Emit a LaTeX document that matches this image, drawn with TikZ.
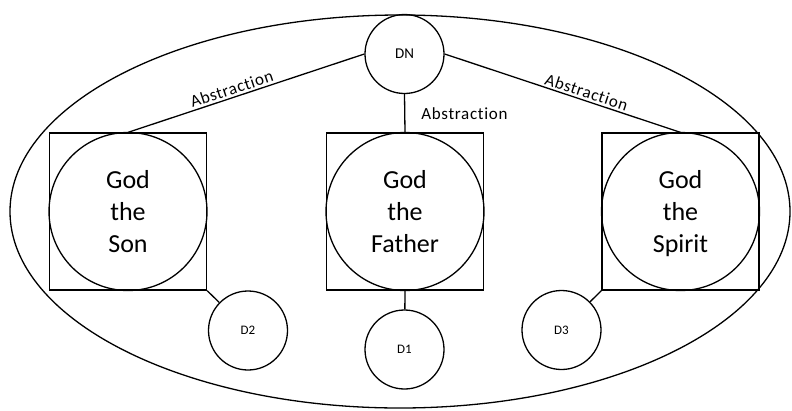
\documentclass[tikz,border=0pt]{standalone}
\usepackage{fontspec}
\setmainfont[Ligatures=NoCommon]{Carlito}
\newfontfamily\spacedfont[LetterSpace=4,Ligatures=NoCommon]{Carlito}
\begin{document}
\begin{tikzpicture}[x=1pt,y=-1pt,
  line width=1.3pt,
  person/.style={circle,draw,inner sep=0pt,minimum size=158pt,align=center,
    text depth=0pt,font=\fontsize{26}{32}\selectfont},
  personbox/.style={rectangle,draw,inner sep=0pt,minimum size=157pt},
  dnode/.style={circle,draw,inner sep=0pt,minimum size=79pt,font=\fontsize{13}{15}\selectfont},
  lbl/.style={font=\spacedfont\fontsize{17}{20}\selectfont,inner sep=2pt}]
\useasboundingbox (0,0) rectangle (792,410);

% enclosing ellipse
\draw (400,211.5) ellipse [x radius=390, y radius=196.5];

% the three persons, each a circle inscribed in a square
\node[personbox] (sonbox) at (128,211.5) {};
\node[person] (son) at (128,211.5) {God\\the\\Son};
\node[personbox] (fatherbox) at (405,211.5) {};
\node[person] (father) at (405,211.5) {God\\the\\Father};
\node[personbox] (spiritbox) at (680.5,211.5) {};
\node[person] (spirit) at (680.5,211.5) {God\\the\\Spirit};

% divine nature and the three distinct nodes
\node[dnode,font=\fontsize{15}{17}\selectfont] (DN) at (404.5,54) {DN};
\node[dnode] (D2) at (248,330.5) {D2};
\node[dnode] (D1) at (404.5,349.5) {D1};
\node[dnode] (D3) at (561.5,330) {D3};

% abstraction links
\draw (DN.west) -- node[lbl,pos=0.55,sloped,above] {Abstraction} (sonbox.north);
\draw (DN.east) -- node[lbl,pos=0.59,sloped,above] {Abstraction} (spiritbox.north);
\draw (DN.south) -- node[lbl,anchor=west,xshift=14pt] {Abstraction} (fatherbox.north);

% links to the distinct nodes
\draw (sonbox.south east) -- (D2);
\draw (fatherbox.south) -- (D1);
\draw (spiritbox.south west) -- (D3);
\end{tikzpicture}
\end{document}
